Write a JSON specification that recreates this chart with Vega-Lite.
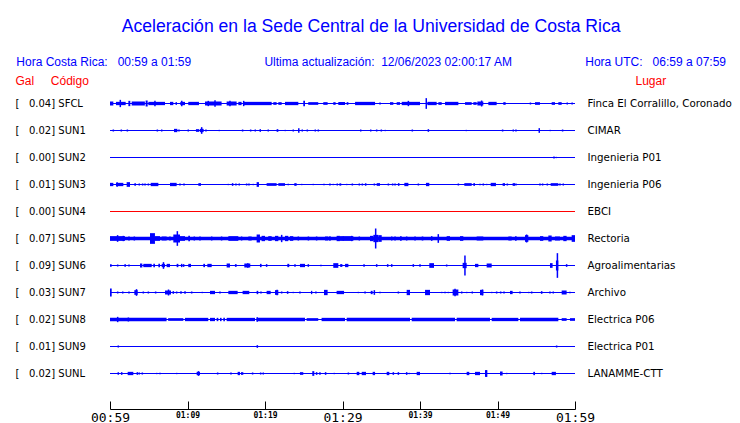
{
"$schema": "https://vega.github.io/schema/vega-lite/v6.json",
"width": 465, "height": 297,
"autosize": {"type": "none"},
"padding": {"left": 110, "top": 90, "right": 165, "bottom": 36},
"background": "white",
"title": {
 "text": "Aceleración en la Sede Central de la Universidad de Costa Rica",
 "subtitle": "Hora Costa Rica:\u00a0\u00a0\u00a000:59 a 01:59\u00a0\u00a0\u00a0\u00a0\u00a0\u00a0\u00a0\u00a0\u00a0\u00a0\u00a0\u00a0\u00a0\u00a0\u00a0\u00a0\u00a0\u00a0\u00a0\u00a0\u00a0\u00a0Ultima actualización:\u00a0\u00a012/06/2023 02:00:17 AM\u00a0\u00a0\u00a0\u00a0\u00a0\u00a0\u00a0\u00a0\u00a0\u00a0\u00a0\u00a0\u00a0\u00a0\u00a0\u00a0\u00a0\u00a0\u00a0\u00a0\u00a0\u00a0Hora UTC:\u00a0\u00a0\u00a006:59 a 07:59",
 "anchor": "middle", "frame": "bounds", "dx": -2,
 "font": "Liberation Sans", "fontSize": 17.6, "fontWeight": "normal", "color": "#0000ff",
 "subtitleFont": "Liberation Sans", "subtitleFontSize": 12, "subtitleColor": "#0000ff",
 "subtitlePadding": 21, "offset": 6
},
"config": {
 "view": {"stroke": null},
 "axisLeft": {"domain": false, "ticks": false, "grid": false, "labelAlign": "left", "labelPadding": 95, "labelFont": "DejaVu Sans", "labelFontSize": 10, "labelColor": "black",
   "titleAngle": 0, "titleAlign": "left", "titleBaseline": "alphabetic", "titleX": -95, "titleY": -6, "titleFont": "Liberation Sans", "titleFontSize": 12, "titleFontWeight": "normal", "titleColor": "#ff0000"},
 "axisRight": {"domain": false, "ticks": false, "grid": false, "labelAlign": "left", "labelPadding": 12, "labelFont": "DejaVu Sans", "labelFontSize": 10.3, "labelColor": "black",
   "titleAngle": 0, "titleAlign": "left", "titleBaseline": "alphabetic", "titleX": 60, "titleY": -6, "titleFont": "Liberation Sans", "titleFontSize": 12, "titleFontWeight": "normal", "titleColor": "#ff0000"}
},
"datasets": {
 "stations": [
  {"s": "SFCL", "order": 1, "label": "[\u00a0\u00a0\u00a00.04] SFCL", "lugar": "Finca El Corralillo, Coronado", "status": "ok", "t0": 0, "t1": 60},
  {"s": "SUN1", "order": 2, "label": "[\u00a0\u00a0\u00a00.02] SUN1", "lugar": "CIMAR", "status": "ok", "t0": 0, "t1": 60},
  {"s": "SUN2", "order": 3, "label": "[\u00a0\u00a0\u00a00.00] SUN2", "lugar": "Ingenieria P01", "status": "ok", "t0": 0, "t1": 60},
  {"s": "SUN3", "order": 4, "label": "[\u00a0\u00a0\u00a00.01] SUN3", "lugar": "Ingenieria P06", "status": "ok", "t0": 0, "t1": 60},
  {"s": "SUN4", "order": 5, "label": "[\u00a0\u00a0\u00a00.00] SUN4", "lugar": "EBCI", "status": "sin datos", "t0": 0, "t1": 60},
  {"s": "SUN5", "order": 6, "label": "[\u00a0\u00a0\u00a00.07] SUN5", "lugar": "Rectoria", "status": "ok", "t0": 0, "t1": 60},
  {"s": "SUN6", "order": 7, "label": "[\u00a0\u00a0\u00a00.09] SUN6", "lugar": "Agroalimentarias", "status": "ok", "t0": 0, "t1": 60},
  {"s": "SUN7", "order": 8, "label": "[\u00a0\u00a0\u00a00.03] SUN7", "lugar": "Archivo", "status": "ok", "t0": 0, "t1": 60},
  {"s": "SUN8", "order": 9, "label": "[\u00a0\u00a0\u00a00.02] SUN8", "lugar": "Electrica P06", "status": "ok", "t0": 0, "t1": 60},
  {"s": "SUN9", "order": 10, "label": "[\u00a0\u00a0\u00a00.01] SUN9", "lugar": "Electrica P01", "status": "ok", "t0": 0, "t1": 60},
  {"s": "SUNL", "order": 11, "label": "[\u00a0\u00a0\u00a00.02] SUNL", "lugar": "LANAMME-CTT", "status": "ok", "t0": 0, "t1": 60}
 ],
 "segs": [
  {"s":"SFCL","t0":0,"t1":0.43,"a":4},{"s":"SFCL","t0":0.77,"t1":2.02,"a":3.3},{"s":"SFCL","t0":2.37,"t1":2.62,"a":5.3},{"s":"SFCL","t0":2.8,"t1":4.5,"a":4},{"s":"SFCL","t0":4.6,"t1":4.86,"a":6},{"s":"SFCL","t0":4.95,"t1":7.1,"a":3.3},{"s":"SFCL","t0":7.74,"t1":8.17,"a":3.3},{"s":"SFCL","t0":9.07,"t1":9.68,"a":3.3},{"s":"SFCL","t0":10.1,"t1":11.48,"a":3.3},{"s":"SFCL","t0":12.26,"t1":14.4,"a":4},{"s":"SFCL","t0":15.05,"t1":16.34,"a":4},{"s":"SFCL","t0":16.56,"t1":16.98,"a":3.3},{"s":"SFCL","t0":17.2,"t1":20.86,"a":3.3},{"s":"SFCL","t0":21.07,"t1":21.5,"a":2.7},{"s":"SFCL","t0":21.72,"t1":22.15,"a":2.7},{"s":"SFCL","t0":22.58,"t1":24.3,"a":3.3},{"s":"SFCL","t0":24.94,"t1":25.16,"a":5.3},{"s":"SFCL","t0":25.58,"t1":26.87,"a":2.7},{"s":"SFCL","t0":27.52,"t1":28.08,"a":2.7},{"s":"SFCL","t0":28.81,"t1":29.11,"a":2.7},{"s":"SFCL","t0":29.46,"t1":30.33,"a":3},{"s":"SFCL","t0":30.54,"t1":30.76,"a":2.7},{"s":"SFCL","t0":31.62,"t1":34.2,"a":3.3},{"s":"SFCL","t0":36.13,"t1":36.56,"a":2.7},{"s":"SFCL","t0":36.99,"t1":37.42,"a":2.7},{"s":"SFCL","t0":37.64,"t1":40.0,"a":3.3},{"s":"SFCL","t0":40.95,"t1":42.15,"a":3.3},{"s":"SFCL","t0":42.37,"t1":42.8,"a":2.7},{"s":"SFCL","t0":43.23,"t1":44.95,"a":3.3},{"s":"SFCL","t0":45.81,"t1":46.67,"a":2.7},{"s":"SFCL","t0":46.88,"t1":47.31,"a":2.7},{"s":"SFCL","t0":47.4,"t1":48.17,"a":4},{"s":"SFCL","t0":48.82,"t1":49.89,"a":3.3},{"s":"SFCL","t0":50.75,"t1":51.05,"a":2.7},{"s":"SFCL","t0":54.84,"t1":55.48,"a":2.7},{"s":"SFCL","t0":56.99,"t1":57.42,"a":2.7},{"s":"SFCL","t0":57.85,"t1":58.28,"a":2.7},
  {"s":"SUN1","t0":8.26,"t1":8.69,"a":3.3},{"s":"SUN1","t0":11.09,"t1":11.52,"a":2.7},{"s":"SUN1","t0":11.61,"t1":12.08,"a":3.3},{"s":"SUN1","t0":21.5,"t1":21.72,"a":2.7},
  {"s":"SUN3","t0":0,"t1":0.43,"a":3.3},{"s":"SUN3","t0":0.77,"t1":1.72,"a":3.3},{"s":"SUN3","t0":2.15,"t1":2.58,"a":4.7},{"s":"SUN3","t0":3.14,"t1":3.35,"a":2.7},{"s":"SUN3","t0":5.25,"t1":6.24,"a":3.3},{"s":"SUN3","t0":7.74,"t1":8.6,"a":3.3},{"s":"SUN3","t0":11.4,"t1":11.74,"a":2.7},{"s":"SUN3","t0":18.92,"t1":19.22,"a":4.7},{"s":"SUN3","t0":20.21,"t1":21.5,"a":2.7},{"s":"SUN3","t0":21.72,"t1":22.58,"a":2.7},{"s":"SUN3","t0":23.78,"t1":24.08,"a":2.7},{"s":"SUN3","t0":29.68,"t1":29.85,"a":2},{"s":"SUN3","t0":34.41,"t1":34.84,"a":2.7},{"s":"SUN3","t0":37.98,"t1":38.5,"a":3.3},{"s":"SUN3","t0":40.77,"t1":41.2,"a":3.3},{"s":"SUN3","t0":45.72,"t1":46.67,"a":2.7},{"s":"SUN3","t0":46.88,"t1":47.1,"a":2.7},{"s":"SUN3","t0":49.12,"t1":49.8,"a":3.3},{"s":"SUN3","t0":50.66,"t1":50.97,"a":2.7},{"s":"SUN3","t0":51.95,"t1":52.26,"a":2.7},{"s":"SUN3","t0":56.86,"t1":57.85,"a":2.7},
  {"s":"SUN5","t0":0,"t1":60,"a":3.5},{"s":"SUN5","t0":0,"t1":1.94,"a":4.7},{"s":"SUN5","t0":5.16,"t1":5.8,"a":10.7},{"s":"SUN5","t0":5.8,"t1":6.45,"a":4.7},{"s":"SUN5","t0":6.67,"t1":7.31,"a":4},{"s":"SUN5","t0":8.17,"t1":9.03,"a":8},{"s":"SUN5","t0":9.03,"t1":9.68,"a":4.7},{"s":"SUN5","t0":10.1,"t1":10.32,"a":5.3},{"s":"SUN5","t0":15.27,"t1":16.56,"a":4.7},{"s":"SUN5","t0":17.85,"t1":18.28,"a":4},{"s":"SUN5","t0":18.92,"t1":19.35,"a":8},{"s":"SUN5","t0":19.56,"t1":20.0,"a":5.3},{"s":"SUN5","t0":20.42,"t1":20.86,"a":4.7},{"s":"SUN5","t0":21.29,"t1":21.72,"a":5.3},{"s":"SUN5","t0":22.58,"t1":23.0,"a":5.3},{"s":"SUN5","t0":23.22,"t1":23.65,"a":4.7},{"s":"SUN5","t0":27.74,"t1":28.17,"a":4},{"s":"SUN5","t0":29.24,"t1":29.67,"a":5.3},{"s":"SUN5","t0":29.68,"t1":31.4,"a":4.7},{"s":"SUN5","t0":33.55,"t1":33.98,"a":5.3},{"s":"SUN5","t0":33.98,"t1":34.63,"a":7.3},{"s":"SUN5","t0":34.63,"t1":35.06,"a":6.7},{"s":"SUN5","t0":37.42,"t1":37.64,"a":4.7},{"s":"SUN5","t0":40.22,"t1":40.43,"a":4},{"s":"SUN5","t0":43.44,"t1":43.87,"a":4.7},{"s":"SUN5","t0":45.16,"t1":45.59,"a":4.7},{"s":"SUN5","t0":47.31,"t1":48.17,"a":4},{"s":"SUN5","t0":51.4,"t1":51.83,"a":4},{"s":"SUN5","t0":52.26,"t1":52.47,"a":4.7},{"s":"SUN5","t0":53.55,"t1":53.98,"a":6.7},{"s":"SUN5","t0":55.48,"t1":55.91,"a":4.7},{"s":"SUN5","t0":56.56,"t1":56.99,"a":6},{"s":"SUN5","t0":57.42,"t1":58.06,"a":4},{"s":"SUN5","t0":58.49,"t1":58.92,"a":5.3},{"s":"SUN5","t0":59.57,"t1":60,"a":6.7},
  {"s":"SUN6","t0":0,"t1":0.22,"a":2.7},{"s":"SUN6","t0":1.85,"t1":2.06,"a":2.7},{"s":"SUN6","t0":3.87,"t1":4.17,"a":4},{"s":"SUN6","t0":4.3,"t1":5.38,"a":3.3},{"s":"SUN6","t0":5.59,"t1":5.8,"a":3.3},{"s":"SUN6","t0":6.24,"t1":6.45,"a":3.3},{"s":"SUN6","t0":6.67,"t1":7.1,"a":3.3},{"s":"SUN6","t0":7.31,"t1":7.74,"a":3.3},{"s":"SUN6","t0":8.6,"t1":8.82,"a":3.3},{"s":"SUN6","t0":10.1,"t1":10.45,"a":3.3},{"s":"SUN6","t0":12.04,"t1":12.26,"a":3.3},{"s":"SUN6","t0":12.56,"t1":13.12,"a":3.3},{"s":"SUN6","t0":15.05,"t1":15.48,"a":4},{"s":"SUN6","t0":16.12,"t1":16.34,"a":2.7},{"s":"SUN6","t0":17.33,"t1":18.1,"a":4},{"s":"SUN6","t0":19.35,"t1":19.56,"a":3.3},{"s":"SUN6","t0":22.88,"t1":23.13,"a":3.3},{"s":"SUN6","t0":24.51,"t1":25.16,"a":3.3},{"s":"SUN6","t0":28.81,"t1":29.46,"a":4.7},{"s":"SUN6","t0":29.68,"t1":29.9,"a":2.7},{"s":"SUN6","t0":30.33,"t1":30.76,"a":3.3},{"s":"SUN6","t0":41.2,"t1":41.81,"a":4.7},{"s":"SUN6","t0":45.5,"t1":46.02,"a":5.3},{"s":"SUN6","t0":47.1,"t1":47.53,"a":3.3},{"s":"SUN6","t0":48.6,"t1":49.25,"a":4},{"s":"SUN6","t0":56.77,"t1":57.11,"a":4.7},{"s":"SUN6","t0":57.54,"t1":57.85,"a":10},
  {"s":"SUN7","t0":0,"t1":0.22,"a":8},{"s":"SUN7","t0":1.59,"t1":1.72,"a":2.7},{"s":"SUN7","t0":3.14,"t1":3.57,"a":4.7},{"s":"SUN7","t0":7.1,"t1":7.87,"a":4},{"s":"SUN7","t0":12.9,"t1":13.55,"a":3.3},{"s":"SUN7","t0":15.27,"t1":16.47,"a":3.3},{"s":"SUN7","t0":17.11,"t1":17.97,"a":3.3},{"s":"SUN7","t0":18.92,"t1":19.13,"a":3.3},{"s":"SUN7","t0":20.21,"t1":20.73,"a":3.3},{"s":"SUN7","t0":21.29,"t1":21.72,"a":4.7},{"s":"SUN7","t0":25.93,"t1":26.1,"a":3.3},{"s":"SUN7","t0":27.61,"t1":28.08,"a":5.3},{"s":"SUN7","t0":29.24,"t1":30.2,"a":3.3},{"s":"SUN7","t0":33.64,"t1":33.89,"a":3.3},{"s":"SUN7","t0":38.28,"t1":38.71,"a":5.3},{"s":"SUN7","t0":40.65,"t1":41.29,"a":5.3},{"s":"SUN7","t0":44.21,"t1":44.95,"a":6},{"s":"SUN7","t0":47.74,"t1":48.17,"a":5.3},{"s":"SUN7","t0":51.61,"t1":51.95,"a":3.3},{"s":"SUN7","t0":58.28,"t1":58.92,"a":4},
  {"s":"SUN8","t0":0,"t1":7.3,"a":3.3},{"s":"SUN8","t0":7.5,"t1":9.46,"a":2.7},{"s":"SUN8","t0":9.67,"t1":12.68,"a":3.3},{"s":"SUN8","t0":12.9,"t1":13.55,"a":3.3},{"s":"SUN8","t0":13.76,"t1":13.98,"a":3.3},{"s":"SUN8","t0":14.19,"t1":14.4,"a":3.3},{"s":"SUN8","t0":14.62,"t1":14.83,"a":3.3},{"s":"SUN8","t0":15.05,"t1":18.71,"a":3.3},{"s":"SUN8","t0":18.92,"t1":25.16,"a":3.3},{"s":"SUN8","t0":25.37,"t1":26.87,"a":2.7},{"s":"SUN8","t0":27.3,"t1":30.32,"a":3.3},{"s":"SUN8","t0":30.54,"t1":38.71,"a":3.3},{"s":"SUN8","t0":38.93,"t1":44.52,"a":3.3},{"s":"SUN8","t0":44.73,"t1":49.03,"a":3.3},{"s":"SUN8","t0":49.25,"t1":52.69,"a":3.3},{"s":"SUN8","t0":52.9,"t1":57.85,"a":3.3},{"s":"SUN8","t0":58.28,"t1":58.92,"a":2.7},{"s":"SUN8","t0":59.35,"t1":60,"a":2.7},
  {"s":"SUNL","t0":2.28,"t1":3.01,"a":3.3},{"s":"SUNL","t0":11.18,"t1":11.61,"a":3.3},{"s":"SUNL","t0":16.47,"t1":16.77,"a":3.3},{"s":"SUNL","t0":16.9,"t1":17.2,"a":2.7},{"s":"SUNL","t0":24.51,"t1":24.94,"a":2.7},{"s":"SUNL","t0":26.1,"t1":26.36,"a":4.7},{"s":"SUNL","t0":31.83,"t1":32.17,"a":3.3},{"s":"SUNL","t0":32.48,"t1":33.03,"a":3.3},{"s":"SUNL","t0":33.89,"t1":34.2,"a":3.3},{"s":"SUNL","t0":35.7,"t1":36.04,"a":3.3},{"s":"SUNL","t0":39.57,"t1":40.0,"a":3.3},{"s":"SUNL","t0":46.02,"t1":46.36,"a":3.3},{"s":"SUNL","t0":47.1,"t1":47.74,"a":3.3},{"s":"SUNL","t0":48.39,"t1":48.69,"a":6.7},{"s":"SUNL","t0":50.32,"t1":50.66,"a":4},{"s":"SUNL","t0":54.62,"t1":54.84,"a":3.3},{"s":"SUNL","t0":56.99,"t1":57.54,"a":3.3}
 ],
 "spikes": [
  {"s":"SFCL","t":1.33,"a":7.3},{"s":"SFCL","t":8.55,"a":2.7},{"s":"SFCL","t":9.26,"a":5.3},{"s":"SFCL","t":5.8,"a":5.3},{"s":"SFCL","t":12.68,"a":5.3},{"s":"SFCL","t":13.55,"a":6.7},{"s":"SFCL","t":15.48,"a":5.3},{"s":"SFCL","t":17.25,"a":5.3},{"s":"SFCL","t":34.84,"a":2},{"s":"SFCL","t":38.5,"a":5.3},{"s":"SFCL","t":40.81,"a":10.7},{"s":"SFCL","t":47.95,"a":6},{"s":"SFCL","t":54.25,"a":2},{"s":"SFCL","t":59.0,"a":2},{"s":"SFCL","t":59.63,"a":2},
  {"s":"SUN1","t":0.43,"a":2},{"s":"SUN1","t":1.46,"a":2},{"s":"SUN1","t":2.24,"a":2},{"s":"SUN1","t":6.11,"a":2},{"s":"SUN1","t":6.67,"a":2},{"s":"SUN1","t":8.9,"a":2},{"s":"SUN1","t":10.1,"a":2},{"s":"SUN1","t":11.83,"a":6.7},{"s":"SUN1","t":12.38,"a":2},{"s":"SUN1","t":14.1,"a":1.3},{"s":"SUN1","t":17.11,"a":2},{"s":"SUN1","t":18.15,"a":2},{"s":"SUN1","t":18.75,"a":2},{"s":"SUN1","t":19.39,"a":2.7},{"s":"SUN1","t":20.42,"a":2},{"s":"SUN1","t":22.62,"a":1.3},{"s":"SUN1","t":23.65,"a":2},{"s":"SUN1","t":24.36,"a":4.7},{"s":"SUN1","t":24.81,"a":2},{"s":"SUN1","t":25.46,"a":2},{"s":"SUN1","t":26.49,"a":2},{"s":"SUN1","t":26.88,"a":2},{"s":"SUN1","t":32.35,"a":2},{"s":"SUN1","t":33.64,"a":2},{"s":"SUN1","t":34.41,"a":2},{"s":"SUN1","t":35.01,"a":2},{"s":"SUN1","t":35.53,"a":1.3},{"s":"SUN1","t":39.01,"a":2},{"s":"SUN1","t":41.08,"a":2.7},{"s":"SUN1","t":45.98,"a":1.3},{"s":"SUN1","t":50.66,"a":2},{"s":"SUN1","t":52.04,"a":2},{"s":"SUN1","t":52.38,"a":2},{"s":"SUN1","t":55.39,"a":4.7},{"s":"SUN1","t":56.81,"a":1.3},{"s":"SUN1","t":58.4,"a":2},
  {"s":"SUN2","t":57.29,"a":2},{"s":"SUN2","t":57.59,"a":1.3},
  {"s":"SUN3","t":0.92,"a":4.7},{"s":"SUN3","t":3.78,"a":2},{"s":"SUN3","t":4.21,"a":2},{"s":"SUN3","t":4.52,"a":2},{"s":"SUN3","t":4.95,"a":2},{"s":"SUN3","t":9.03,"a":2},{"s":"SUN3","t":9.55,"a":2},{"s":"SUN3","t":15.27,"a":1.3},{"s":"SUN3","t":15.82,"a":2.7},{"s":"SUN3","t":16.25,"a":2},{"s":"SUN3","t":16.68,"a":2},{"s":"SUN3","t":17.63,"a":2},{"s":"SUN3","t":17.93,"a":2},{"s":"SUN3","t":18.49,"a":1.3},{"s":"SUN3","t":23.0,"a":1.3},{"s":"SUN3","t":24.73,"a":1.3},{"s":"SUN3","t":26.23,"a":1.3},{"s":"SUN3","t":27.61,"a":1.3},{"s":"SUN3","t":28.38,"a":2},{"s":"SUN3","t":28.81,"a":1.3},{"s":"SUN3","t":29.33,"a":2},{"s":"SUN3","t":29.67,"a":2},{"s":"SUN3","t":30.54,"a":1.3},{"s":"SUN3","t":31.27,"a":2},{"s":"SUN3","t":32.17,"a":2},{"s":"SUN3","t":32.56,"a":2},{"s":"SUN3","t":32.99,"a":2.7},{"s":"SUN3","t":34.11,"a":2},{"s":"SUN3","t":35.92,"a":2},{"s":"SUN3","t":36.47,"a":2},{"s":"SUN3","t":36.78,"a":2},{"s":"SUN3","t":37.25,"a":2.7},{"s":"SUN3","t":39.79,"a":2},{"s":"SUN3","t":44.95,"a":2},{"s":"SUN3","t":47.74,"a":1.3},{"s":"SUN3","t":48.17,"a":2},{"s":"SUN3","t":48.6,"a":1.3},{"s":"SUN3","t":51.27,"a":2},{"s":"SUN3","t":52.38,"a":2},{"s":"SUN3","t":55.48,"a":2},{"s":"SUN3","t":55.82,"a":2},{"s":"SUN3","t":56.43,"a":2},{"s":"SUN3","t":58.06,"a":2},{"s":"SUN3","t":58.49,"a":2},
  {"s":"SUN5","t":0.98,"a":6.7},{"s":"SUN5","t":1.72,"a":5.3},{"s":"SUN5","t":2.45,"a":4},{"s":"SUN5","t":3.14,"a":4},{"s":"SUN5","t":7.74,"a":4},{"s":"SUN5","t":8.69,"a":14.7},{"s":"SUN5","t":10.88,"a":4},{"s":"SUN5","t":11.61,"a":4},{"s":"SUN5","t":13.12,"a":4},{"s":"SUN5","t":14.4,"a":4},{"s":"SUN5","t":16.98,"a":4},{"s":"SUN5","t":22.15,"a":7.3},{"s":"SUN5","t":24.3,"a":4},{"s":"SUN5","t":25.6,"a":4},{"s":"SUN5","t":26.66,"a":4},{"s":"SUN5","t":28.38,"a":4.7},{"s":"SUN5","t":30.1,"a":4},{"s":"SUN5","t":31.18,"a":5.3},{"s":"SUN5","t":32.17,"a":4},{"s":"SUN5","t":34.28,"a":20},{"s":"SUN5","t":36.35,"a":4},{"s":"SUN5","t":36.78,"a":4},{"s":"SUN5","t":38.28,"a":4},{"s":"SUN5","t":39.36,"a":4},{"s":"SUN5","t":41.51,"a":4.7},{"s":"SUN5","t":42.36,"a":8.7},{"s":"SUN5","t":53.76,"a":8},
  {"s":"SUN6","t":0.99,"a":2},{"s":"SUN6","t":2.45,"a":2},{"s":"SUN6","t":6.9,"a":6.7},{"s":"SUN6","t":9.25,"a":3.3},{"s":"SUN6","t":9.5,"a":2.7},{"s":"SUN6","t":17.78,"a":4.7},{"s":"SUN6","t":20.21,"a":2.7},{"s":"SUN6","t":23.87,"a":2.7},{"s":"SUN6","t":25.59,"a":2.7},{"s":"SUN6","t":27.22,"a":1.3},{"s":"SUN6","t":29.89,"a":2.7},{"s":"SUN6","t":32.78,"a":2.7},{"s":"SUN6","t":34.41,"a":2.7},{"s":"SUN6","t":35.83,"a":2.7},{"s":"SUN6","t":36.35,"a":2.7},{"s":"SUN6","t":39.14,"a":2.7},{"s":"SUN6","t":40.0,"a":2.7},{"s":"SUN6","t":43.44,"a":2},{"s":"SUN6","t":45.8,"a":20},{"s":"SUN6","t":57.73,"a":24.7},{"s":"SUN6","t":58.92,"a":2.7},
  {"s":"SUN7","t":0.99,"a":2},{"s":"SUN7","t":2.45,"a":2},{"s":"SUN7","t":3.42,"a":6.7},{"s":"SUN7","t":4.3,"a":2},{"s":"SUN7","t":4.95,"a":2},{"s":"SUN7","t":5.89,"a":2},{"s":"SUN7","t":7.55,"a":6},{"s":"SUN7","t":8.17,"a":2.7},{"s":"SUN7","t":8.6,"a":2},{"s":"SUN7","t":9.16,"a":2.7},{"s":"SUN7","t":9.68,"a":2.7},{"s":"SUN7","t":10.54,"a":2},{"s":"SUN7","t":11.91,"a":1.3},{"s":"SUN7","t":14.19,"a":2},{"s":"SUN7","t":19.48,"a":2},{"s":"SUN7","t":21.56,"a":5.3},{"s":"SUN7","t":22.15,"a":2},{"s":"SUN7","t":22.92,"a":2.7},{"s":"SUN7","t":23.65,"a":1.3},{"s":"SUN7","t":24.51,"a":2},{"s":"SUN7","t":26.57,"a":2},{"s":"SUN7","t":32.05,"a":1.3},{"s":"SUN7","t":32.91,"a":2},{"s":"SUN7","t":34.11,"a":4.7},{"s":"SUN7","t":34.84,"a":1.3},{"s":"SUN7","t":37.21,"a":2},{"s":"SUN7","t":42.8,"a":1.3},{"s":"SUN7","t":43.23,"a":1.3},{"s":"SUN7","t":43.66,"a":1.3},{"s":"SUN7","t":44.52,"a":7.3},{"s":"SUN7","t":45.38,"a":2},{"s":"SUN7","t":46.02,"a":1.3},{"s":"SUN7","t":46.75,"a":2},{"s":"SUN7","t":48.06,"a":6},{"s":"SUN7","t":49.25,"a":1.3},{"s":"SUN7","t":49.89,"a":2},{"s":"SUN7","t":50.41,"a":2},{"s":"SUN7","t":50.84,"a":2},{"s":"SUN7","t":52.9,"a":2},{"s":"SUN7","t":54.02,"a":1.3},{"s":"SUN7","t":54.41,"a":2},{"s":"SUN7","t":55.7,"a":2.7},{"s":"SUN7","t":56.77,"a":2},{"s":"SUN7","t":57.2,"a":2},{"s":"SUN7","t":59.35,"a":1.3},
  {"s":"SUN8","t":0.99,"a":5.3},{"s":"SUN8","t":2.37,"a":4},{"s":"SUN8","t":19.0,"a":4.7},
  {"s":"SUN9","t":1.07,"a":2},{"s":"SUN9","t":19.01,"a":2.7},{"s":"SUN9","t":57.63,"a":2},
  {"s":"SUNL","t":1.07,"a":2.7},{"s":"SUNL","t":1.51,"a":2.7},{"s":"SUNL","t":3.53,"a":2.7},{"s":"SUNL","t":3.78,"a":2},{"s":"SUNL","t":4.17,"a":2},{"s":"SUNL","t":6.02,"a":1.3},{"s":"SUNL","t":6.45,"a":1.3},{"s":"SUNL","t":8.6,"a":1.3},{"s":"SUNL","t":11.42,"a":4.7},{"s":"SUNL","t":13.89,"a":2},{"s":"SUNL","t":15.61,"a":2},{"s":"SUNL","t":18.4,"a":2},{"s":"SUNL","t":19.44,"a":2},{"s":"SUNL","t":19.78,"a":2},{"s":"SUNL","t":23.78,"a":1.3},{"s":"SUNL","t":26.66,"a":2.7},{"s":"SUNL","t":27.09,"a":2.7},{"s":"SUNL","t":27.82,"a":2.7},{"s":"SUNL","t":28.94,"a":1.3},{"s":"SUNL","t":30.76,"a":2},{"s":"SUNL","t":36.56,"a":2.7},{"s":"SUNL","t":37.21,"a":2.7},{"s":"SUNL","t":38.28,"a":2.7},{"s":"SUNL","t":38.62,"a":1.3},{"s":"SUNL","t":43.87,"a":1.3},{"s":"SUNL","t":48.54,"a":6.7},{"s":"SUNL","t":51.18,"a":1.3},{"s":"SUNL","t":55.7,"a":1.3}
 ]
},
"layer": [
 {"layer": [
  {"data": {"name": "stations"},
   "mark": {"type": "rule", "strokeWidth": 1},
   "encoding": {
    "x": {"field": "t0", "type": "quantitative", "title": null, "scale": {"domain": [0, 60], "nice": false, "zero": false},
      "axis": {"values": [0,5,10,15,20,25,30,35,40,45,50,55,60], "domain": true, "domainColor": "black", "domainWidth": 1, "ticks": true, "tickColor": "black", "tickWidth": 1, "tickSize": -8, "grid": false, "offset": 22,
        "labelExpr": "datum.value % 10 === 0 ? timeFormat(datetime(2023, 11, 6, 0, 59 + datum.value), '%H:%M') : ''",
        "labelFont": "DejaVu Sans Mono", "labelColor": "black", "labelBaseline": "top", "labelPadding": 10, "labelFlush": false, "labelOverlap": false,
        "labelFontSize": {"condition": {"test": "datum.value % 30 === 0", "value": 13}, "value": 8},
        "labelFontWeight": {"condition": {"test": "datum.value % 30 === 0", "value": "normal"}, "value": "bold"}}},
    "x2": {"field": "t1"},
    "y": {"field": "label", "type": "nominal", "sort": {"field": "order", "op": "min"}, "scale": {"type": "point", "padding": 0.5},
      "title": "Gal\u00a0\u00a0\u00a0\u00a0\u00a0Código", "axis": {"orient": "left"}},
    "color": {"field": "status", "type": "nominal", "scale": {"domain": ["ok", "sin datos"], "range": ["#0000ff", "#ff0000"]}, "legend": null}
   }},
  {"data": {"name": "segs"},
   "transform": [{"lookup": "s", "from": {"data": {"name": "stations"}, "key": "s", "fields": ["label", "order"]}}],
   "mark": {"type": "rule", "color": "#0000ff", "strokeCap": "butt"},
   "encoding": {
    "x": {"field": "t0", "type": "quantitative", "title": null},
    "x2": {"field": "t1"},
    "y": {"field": "label", "type": "nominal", "sort": {"field": "order", "op": "min"}},
    "strokeWidth": {"field": "a", "type": "quantitative", "scale": {"domain": [0, 30], "range": [0, 30]}, "legend": null}
   }},
  {"data": {"name": "spikes"},
   "transform": [{"lookup": "s", "from": {"data": {"name": "stations"}, "key": "s", "fields": ["label", "order"]}}],
   "mark": {"type": "tick", "orient": "vertical", "color": "#0000ff", "thickness": 1.5, "opacity": 1},
   "encoding": {
    "x": {"field": "t", "type": "quantitative", "title": null},
    "y": {"field": "label", "type": "nominal", "sort": {"field": "order", "op": "min"}},
    "size": {"field": "a", "type": "quantitative", "scale": {"domain": [0, 30], "range": [0, 30]}, "legend": null}
   }}
 ]},
 {"data": {"name": "stations"},
  "mark": {"type": "rule", "strokeWidth": 1},
  "encoding": {
   "x": {"field": "t0", "type": "quantitative", "title": null},
   "x2": {"field": "t1"},
   "y": {"field": "lugar", "type": "nominal", "sort": {"field": "order", "op": "min"}, "scale": {"type": "point", "padding": 0.5}, "title": "Lugar", "axis": {"orient": "right"}},
   "color": {"field": "status", "type": "nominal", "scale": {"domain": ["ok", "sin datos"], "range": ["#0000ff", "#ff0000"]}, "legend": null}
  }}
],
"resolve": {"scale": {"y": "independent"}, "axis": {"y": "independent"}}
}
